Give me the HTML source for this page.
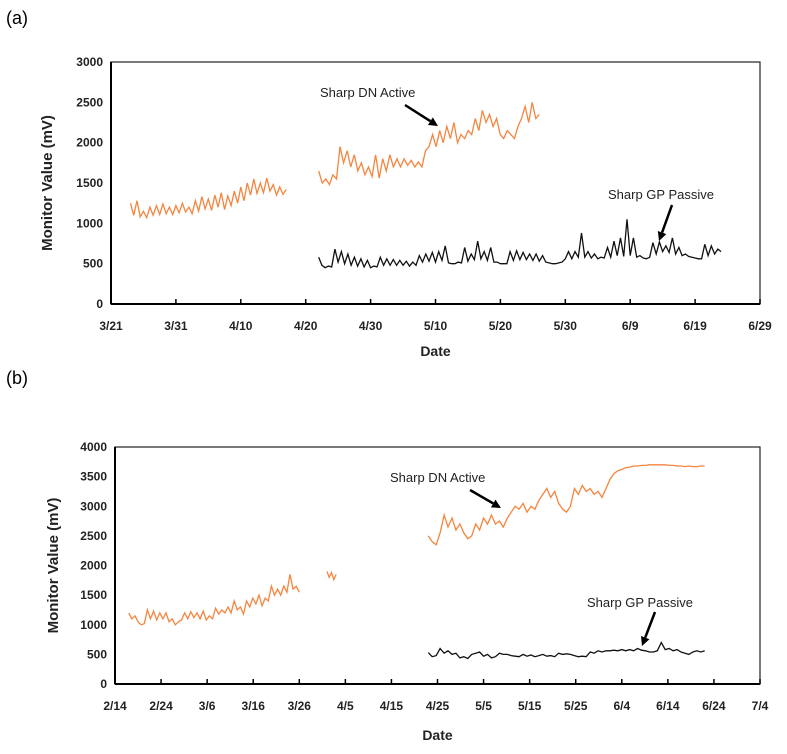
<!DOCTYPE html>
<html><head><meta charset="utf-8"><style>
body{margin:0;background:#fff;width:787px;height:749px;overflow:hidden}
svg text{font-family:"Liberation Sans",sans-serif}
</style></head><body>
<svg id="fig" width="787" height="749">
<text x="6" y="24" font-size="18">(a)</text>
<text x="6" y="384" font-size="18">(b)</text>
</svg>
<script>
// ---- Panel A data (x = days since 3/21) ----
const aXTicks=["3/21","3/31","4/10","4/20","4/30","5/10","5/20","5/30","6/9","6/19","6/29"];
const aYTicks=[0,500,1000,1500,2000,2500,3000];
const aOrange1Range=[3,27];
const aOrange1=[1250,1100,1280,1080,1150,1070,1200,1100,1220,1110,1240,1120,1200,1110,1220,1130,1250,1140,1200,1120,1280,1150,1330,1180,1300,1160,1350,1200,1380,1170,1340,1220,1400,1250,1450,1280,1500,1350,1550,1370,1500,1380,1560,1400,1480,1350,1450,1360,1420];
const aOrange2Range=[32,66];
const aOrange2=[1650,1500,1550,1480,1600,1550,1950,1750,1900,1700,1850,1650,1750,1600,1700,1580,1850,1560,1800,1650,1850,1700,1800,1700,1800,1720,1780,1700,1760,1700,1900,1950,2100,1950,2150,2000,2200,2050,2250,2000,2100,2050,2150,2100,2300,2150,2400,2250,2350,2200,2300,2100,2050,2150,2100,2050,2200,2300,2450,2250,2500,2300,2350];
const aBlackRange=[32,94];
const aBlack=[580,480,450,470,460,680,520,650,500,620,480,580,470,560,460,540,450,470,460,580,480,560,480,550,480,540,480,530,470,520,480,600,520,620,530,640,520,650,540,720,510,500,500,520,510,700,530,620,550,780,560,650,540,700,520,520,500,500,500,650,540,660,550,640,550,620,540,620,530,600,520,510,500,500,510,520,560,650,560,650,580,880,580,650,570,620,560,580,570,700,580,780,600,820,590,1050,600,820,580,600,570,560,580,760,620,770,650,720,640,820,620,700,600,620,590,580,570,560,560,740,600,720,620,680,650];

// ---- Panel B data (x = days since 2/14) ----
const bXTicks=["2/14","2/24","3/6","3/16","3/26","4/5","4/15","4/25","5/5","5/15","5/25","6/4","6/14","6/24","7/4"];
const bYTicks=[0,500,1000,1500,2000,2500,3000,3500,4000];
const bOrange1Range=[3,40];
const bOrange1=[1200,1100,1150,1050,1000,1020,1250,1100,1230,1080,1200,1100,1200,1050,1100,1000,1050,1080,1200,1100,1220,1120,1200,1100,1230,1080,1150,1100,1280,1180,1250,1200,1300,1200,1400,1250,1300,1180,1400,1300,1450,1350,1500,1320,1450,1400,1650,1500,1600,1500,1650,1550,1850,1600,1650,1550];
const bOrange2Range=[46,48];
const bOrange2=[1900,1800,1880,1760,1850];
const bOrange3Range=[68,128];
const bOrange3=[2500,2400,2350,2550,2850,2650,2800,2600,2700,2550,2450,2500,2700,2600,2800,2700,2850,2700,2750,2650,2800,2900,3000,2950,3050,2900,3000,2950,3100,3200,3300,3150,3250,3050,2950,2900,3000,3300,3200,3350,3250,3300,3200,3250,3150,3300,3450,3550,3600,3620,3650,3660,3680,3680,3690,3690,3700,3700,3700,3700,3700,3690,3690,3680,3680,3670,3680,3670,3670,3680,3680];
const bBlackRange=[68,128];
const bBlack=[530,460,480,600,520,560,500,520,440,460,430,500,520,540,470,500,440,460,520,500,500,480,470,460,500,470,490,460,480,500,470,480,460,520,500,510,500,480,460,470,460,540,520,560,540,560,560,570,560,580,560,580,560,600,570,560,540,540,560,700,580,600,560,580,540,520,500,540,560,540,560];

const NS="http://www.w3.org/2000/svg";
const svg=document.getElementById('fig');
function mk(tag,attrs,parent){const e=document.createElementNS(NS,tag);for(const k in attrs)e.setAttribute(k,attrs[k]);(parent||svg).appendChild(e);return e;}

function panel(cfg){
  const g=mk('g',{});
  
  
  const {x0,x1,y0,y1,days,ymax}=cfg;
  const sx=d=>x0+(x1-x0)*d/days;
  const sy=v=>y1-(y1-y0)*v/ymax;
  const box=mk('rect',{x:x0,y:y0,width:x1-x0,height:y1-y0,fill:'none',stroke:'#222','stroke-width':1.2},g);
  
  
  mk('line',{x1:x0,y1:y1,x2:x1,y2:y1,stroke:'#000','stroke-width':2},g);
  mk('line',{x1:x0,y1:y0,x2:x0,y2:y1,stroke:'#000','stroke-width':2},g);
  cfg.xt.forEach((t,i)=>{const x=sx(i*10);
    mk('line',{x1:x,y1:y1,x2:x,y2:y1-5,stroke:'#000','stroke-width':1.5},g);
    const tx=mk('text',{x:x,y:y1+26,'font-size':12,'font-weight':'bold','text-anchor':'middle',fill:'#222'},g);tx.textContent=t;
    
    });
  cfg.yt.forEach(v=>{const y=sy(v);
    const tx=mk('text',{x:x0-8,y:y+4,'font-size':12,'font-weight':'bold','text-anchor':'end',fill:'#222'},g);tx.textContent=v;
    
    });
  const yt=mk('text',{x:0,y:0,'font-size':15,'font-weight':'bold','text-anchor':'middle',fill:'#222',transform:`translate(${cfg.ytx},${(y0+y1)/2}) rotate(-90)`},g);yt.textContent='Monitor Value (mV)';
  
  
  const xt=mk('text',{x:(x0+x1)/2,y:cfg.xty,'font-size':14,'font-weight':'bold','text-anchor':'middle',fill:'#222'},g);xt.textContent='Date';
  
  
  cfg.series.forEach(s=>{
    const n=s.vals.length, st=(s.range[1]-s.range[0])/(n-1);
    const pts=s.vals.map((v,i)=>sx(s.range[0]+i*st).toFixed(1)+','+sy(v).toFixed(1)).join(' ');
    const p=mk('polyline',{points:pts,fill:'none',stroke:s.color,'stroke-width':1.3},g);
    
    
  });
  cfg.ann.forEach(a=>{
    const t=mk('text',{x:a.tx,y:a.ty,'font-size':13,fill:'#222'},g);t.textContent=a.text;
    
    
    const dx=a.ax2-a.ax1,dy=a.ay2-a.ay1,L=Math.hypot(dx,dy),ux=dx/L,uy=dy/L;
    const bx=a.ax2-ux*9,by=a.ay2-uy*9;
    mk('line',{x1:a.ax1,y1:a.ay1,x2:bx,y2:by,stroke:'#000','stroke-width':2.5},g);
    const ar=mk('polygon',{points:`${a.ax2},${a.ay2} ${bx-uy*4.5},${by+ux*4.5} ${bx+uy*4.5},${by-ux*4.5}`,fill:'#000'},g);
    
    
  });
}

panel({name:'chart-a',x0:111,x1:760,y0:62,y1:304,days:100,ymax:3000,xt:aXTicks,yt:aYTicks,ytx:52,xty:356,
 series:[{name:'sharp-dn-active-a1',vals:aOrange1,range:aOrange1Range,color:'#f5853f'},
         {name:'sharp-dn-active-a2',vals:aOrange2,range:aOrange2Range,color:'#f5853f'},
         {name:'sharp-gp-passive-a',vals:aBlack,range:aBlackRange,color:'#111'}],
 ann:[{name:'label-dn-active-a',text:'Sharp DN Active',tx:320,ty:97,ax1:405,ay1:105,ax2:438,ay2:126},
      {name:'label-gp-passive-a',text:'Sharp GP Passive',tx:608,ty:199,ax1:672,ay1:205,ax2:659,ay2:241}]});

panel({name:'chart-b',x0:115,x1:760,y0:447,y1:684,days:140,ymax:4000,xt:bXTicks,yt:bYTicks,ytx:58,xty:740,
 series:[{name:'sharp-dn-active-b1',vals:bOrange1,range:bOrange1Range,color:'#f5853f'},
         {name:'sharp-dn-active-b2',vals:bOrange2,range:bOrange2Range,color:'#f5853f'},
         {name:'sharp-dn-active-b3',vals:bOrange3,range:bOrange3Range,color:'#f5853f'},
         {name:'sharp-gp-passive-b',vals:bBlack,range:bBlackRange,color:'#111'}],
 ann:[{name:'label-dn-active-b',text:'Sharp DN Active',tx:390,ty:482,ax1:470,ay1:490,ax2:501,ay2:508},
      {name:'label-gp-passive-b',text:'Sharp GP Passive',tx:587,ty:607,ax1:655,ay1:612,ax2:642,ay2:646}]});
</script>
</body></html>
